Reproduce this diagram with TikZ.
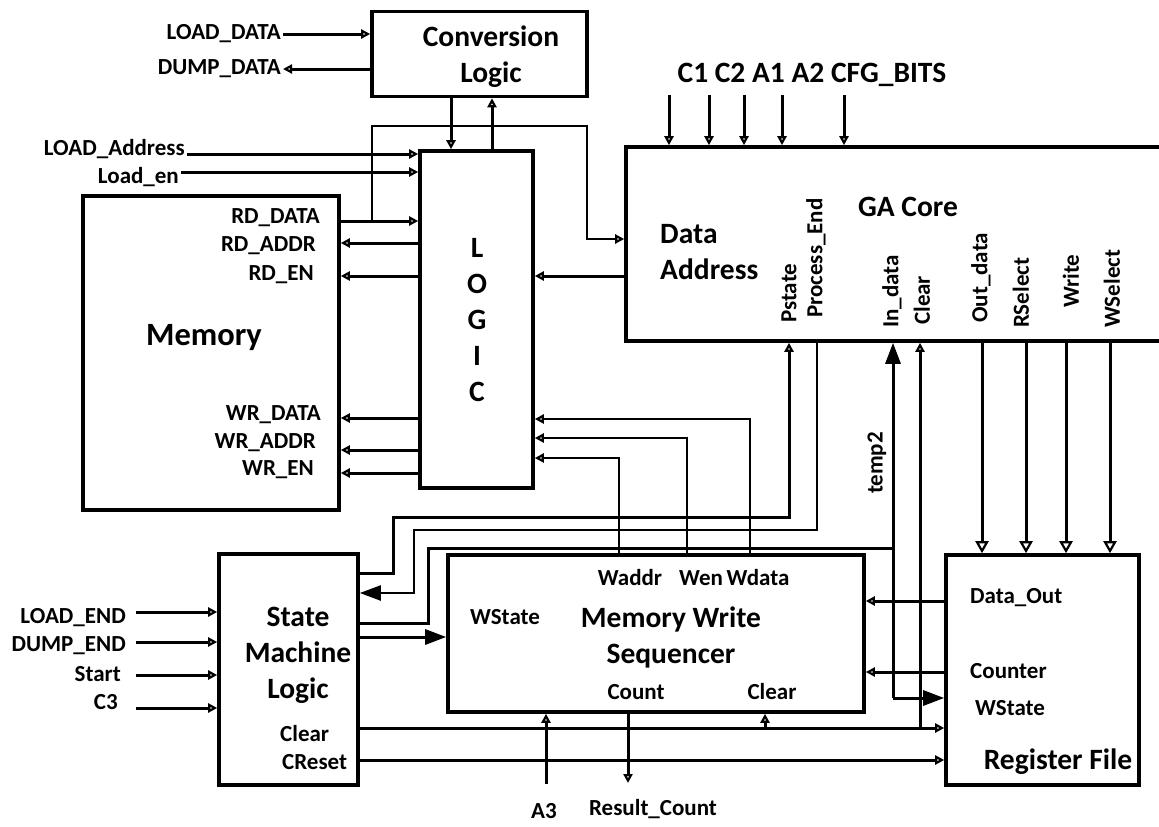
\documentclass[tikz,border=0pt]{standalone}
\usepackage{fontspec}
\setmainfont{Carlito}
\usetikzlibrary{arrows.meta}
\usetikzlibrary{positioning}

\begin{document}
\begin{tikzpicture}[x=1pt, y=-1pt,
  every node/.style={font=\bfseries\fontsize{23}{27}\selectfont, inner sep=2pt},
  title/.style={font=\bfseries\fontsize{29.5}{36}\selectfont, align=center},
  box/.style={draw, line width=3.6pt, inner sep=0pt},
  wire/.style={line width=3pt},
  thinwire/.style={line width=2.3pt},
  tosmall/.style={-{Triangle[open, length=9pt, width=9pt, line width=2.2pt]}},
  tomid/.style={-{Triangle[open, length=12pt, width=13pt, line width=2.2pt]}},
  tobig/.style={-{Triangle[length=21pt, width=15pt]}}]

  % Define the page frame
  \fill[white] (0,0) rectangle (1159,827);
  \useasboundingbox (0,0) rectangle (1159,827);

  % Draw the blocks
  \node[box, minimum width=215, minimum height=85] (conv) at (479.5,54) {};
  \node[box, minimum width=113, minimum height=337] (logic) at (476.5,319.5) {};
  \node[box, minimum width=256, minimum height=314] (mem) at (211,353) {};
  \node[box, minimum width=542, minimum height=194] (ga) at (897,244) {};
  \node[box, minimum width=139, minimum height=231] (sm) at (288.5,669.5) {};
  \node[box, minimum width=416, minimum height=157] (mws) at (656,633.5) {};
  \node[box, minimum width=193, minimum height=230] (rf) at (1042.5,670) {};

  % Block titles
  \node[title] (convtxt) at (491,57) {Conversion\\Logic};
  \node[title] (logictxt) at (477,320) {L\\O\\G\\I\\C};
  \node[title, font=\bfseries\fontsize{32.5}{38}\selectfont] (memtxt) at (204,338) {Memory};
  \node[title] (gatxt) at (908,207) {GA Core};
  \node[title, align=left, anchor=west] (dadr) at (658,252) {Data\\Address};
  \node[title] (smtxt) at (298,655) {State\\Machine\\Logic};
  \node[title] (mwstxt) at (671,637) {Memory Write\\Sequencer};
  \node[title] (rftxt) at (1058,762) {Register File};
  \node[title] (cfg) at (812,75) {C1 C2 A1 A2 CFG\_BITS};

  % Port labels
  \node[anchor=east] (ldata) at (283,34) {LOAD\_DATA};
  \node[anchor=east] (ddata) at (283,69) {DUMP\_DATA};
  \node[anchor=east] (ladr) at (187,149) {LOAD\_Address};
  \node[anchor=east] (len) at (181,177) {Load\_en};
  \node[anchor=east] (rdd) at (322,218) {RD\_DATA};
  \node[anchor=east] (rda) at (318,246) {RD\_ADDR};
  \node[anchor=east] (rde) at (316,275) {RD\_EN};
  \node[anchor=east] (wrd) at (323,415) {WR\_DATA};
  \node[anchor=east] (wra) at (318,443) {WR\_ADDR};
  \node[anchor=east] (wre) at (316,470) {WR\_EN};
  \node[anchor=east] (lend) at (128,618) {LOAD\_END};
  \node[anchor=east] (dend) at (128,646) {DUMP\_END};
  \node[anchor=east] (start) at (123,674) {Start};
  \node[anchor=east] (cthree) at (120,702) {C3};
  \node[anchor=west] (smclr) at (278,734) {Clear};
  \node[anchor=west] (smrst) at (280,762) {CReset};
  \node (waddr) at (630,578) {Waddr};
  \node (wen) at (701,578) {Wen};
  \node (wdata) at (758,578) {Wdata};
  \node (mwsws) at (505,617) {WState};
  \node (count) at (636,692) {Count};
  \node (mwsclr) at (772,692) {Clear};
  \node[anchor=west] (dout) at (968,598) {Data\_Out};
  \node[anchor=west] (cntr) at (968,671) {Counter};
  \node[anchor=west] (rfws) at (973,708) {WState};
  \node (athree) at (544,811) {A3};
  \node (rcount) at (653,809) {Result\_Count};
  \node[rotate=90] (temp) at (877,463) {temp2};

  % Vertical port labels of the GA core
  \foreach \x/\y/\t/\n in {789/325/Pstate/gp, 816/320/Process\_End/ge,
      892/330/In\_data/gi, 922/327/Clear/gc, 981/325/Out\_data/go,
      1021/330/RSelect/gr, 1071/310/Write/gw, 1112/330/WSelect/gs}
    \node[rotate=90, anchor=west] (\n) at (\x,\y) {\t};

  % Conversion logic connections
  \draw[wire, tosmall] (ldata) -- (conv.west |- ldata);
  \draw[wire, tosmall] (conv.west |- ddata) -- (ddata);
  \draw[wire, tosmall] (conv.south -| 451,0) -- (logic.north -| 451,0);
  \draw[wire, tosmall] (logic.north -| 492,0) -- (conv.south -| 492,0);

  % Load inputs to the logic
  \draw[wire, tosmall] (ladr.east |- 0,154) -- (logic.west |- 0,154);
  \draw[wire, tosmall] (len.east |- 0,172) -- (logic.west |- 0,172);

  % Memory read and write ports
  \draw[wire, tosmall] (mem.east |- 0,221) -- (logic.west |- 0,221);
  \foreach \y in {243,276,418,450,473}
    \draw[wire, tosmall] (logic.west |- 0,\y) -- (mem.east |- 0,\y);

  % Read data also goes to the GA core
  \coordinate (rdtap) at (372,221);
  \draw[thinwire, tosmall] (rdtap) |- (587,126) |- (ga.west |- 0,239);
  \draw[wire, tosmall] (ga.west |- 0,276) -- (logic.east |- 0,276);

  % GA core inputs on top
  \foreach \x in {669,709,744,782,844}
    \draw[wire, tosmall] (\x,95) -- (ga.north -| \x,0);

  % State machine and GA core
  \draw[wire, tosmall] (sm.east |- 0,573) -| (393,517) -| (ga.south -| 789,0);
  \draw[thinwire, tobig] (ga.south -| 817,0) |- (414,530) |- (sm.east |- 0,593);
  \coordinate (tjoin) at (893,548);
  \coordinate (tbend) at (893,698);
  \draw[wire] (sm.east |- 0,623) -| (428,548) -- (tjoin);
  \draw[wire, tobig] (tbend) -- (ga.south -| tbend);
  \draw[wire, tobig] (tbend) -- (rf.west |- tbend);
  \draw[wire, tobig] (sm.east |- 0,637) -- (mws.west |- 0,637);

  % Clear and reset lines
  \draw[wire, tosmall] (sm.east |- 0,728) -- (rf.west |- 0,728);
  \draw[wire, tosmall] (920,728) -- (ga.south -| 920,0);
  \draw[wire, tosmall] (765,728) -- (mws.south -| 765,0);
  \draw[wire, tosmall] (sm.east |- 0,760) -- (rf.west |- 0,760);

  % State machine inputs
  \foreach \y in {612,642,675,708}
    \draw[wire, tosmall] (136,\y) -- (sm.west |- 0,\y);

  % Write sequencer to the logic
  \draw[thinwire, tosmall] (mws.north -| 750,0) |- (logic.east |- 0,419);
  \draw[thinwire, tosmall] (mws.north -| 687,0) |- (logic.east |- 0,438);
  \draw[thinwire, tosmall] (mws.north -| 619,0) |- (logic.east |- 0,458);

  % Count and A3
  \draw[wire, tosmall] (546,784) -- (mws.south -| 546,0);
  \draw[wire, tosmall] (mws.south -| 628,0) -- (628,783);

  % GA core outputs to the register file
  \foreach \x in {982,1026,1066,1110}
    \draw[wire, tomid] (ga.south -| \x,0) -- (rf.north -| \x,0);
  \foreach \y in {601,672}
    \draw[wire, tosmall] (rf.west |- 0,\y) -- (mws.east |- 0,\y);
\end{tikzpicture}
\end{document}
